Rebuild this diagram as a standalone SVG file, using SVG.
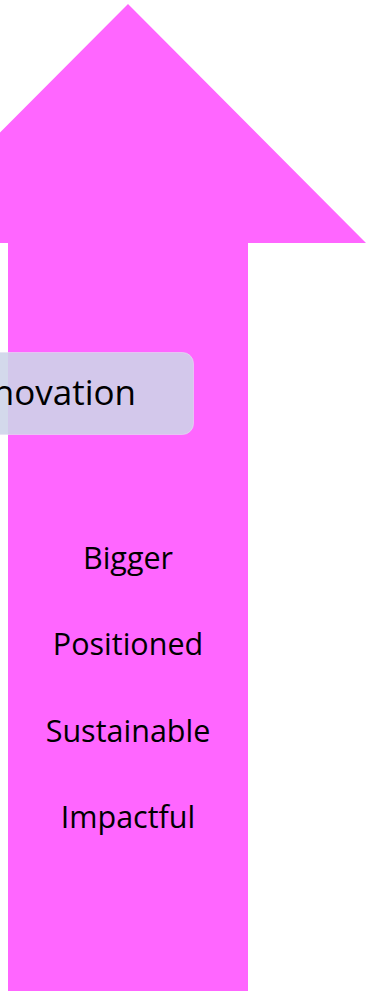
<svg xmlns="http://www.w3.org/2000/svg" width="366" height="995" viewBox="0 0 366 995">
  <style>
    .arrow { fill: #ff66ff; }
    .box { fill: #ced4e9; fill-opacity: 0.89; stroke: #e6e0f4; stroke-opacity: 0.6; stroke-width: 1; }
    .label { font-family: "Open Sans", "Liberation Sans", sans-serif; fill: #000000; }
    .item { font-size: 30.5px; text-anchor: middle; }
    .title { font-size: 35px; text-anchor: end; }
  </style>
  <rect width="366" height="995" fill="#ffffff"/>
  <g id="arrow">
    <polygon class="arrow" points="128,4 366,243 248,243 248,991 8,991 8,243 -110,243"/>
  </g>
  <g id="innovation">
    <rect class="box" x="-130" y="352.5" width="323.5" height="82" rx="11" ry="11"/>
    <text class="label title" x="136" y="405">Innovation</text>
  </g>
  <g id="items">
    <text class="label item" x="128" y="568.5">Bigger</text>
    <text class="label item" x="128" y="655">Positioned</text>
    <text class="label item" x="128" y="741.5">Sustainable</text>
    <text class="label item" x="128" y="828">Impactful</text>
  </g>
  <g id="connectors"></g>
</svg>
